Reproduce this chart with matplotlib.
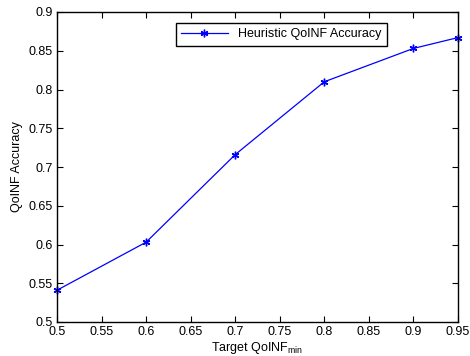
import matplotlib
matplotlib.use("Agg")
import matplotlib.pyplot as plt

target_qoinf = [0.5, 0.6, 0.7, 0.8, 0.9, 0.95]
accuracy = [0.541, 0.603, 0.716, 0.810, 0.853, 0.867]
x_ticks = [0.5, 0.55, 0.6, 0.65, 0.7, 0.75, 0.8, 0.85, 0.9, 0.95]
y_ticks = [0.5, 0.55, 0.6, 0.65, 0.7, 0.75, 0.8, 0.85, 0.9]

plt.rcParams['font.family'] = ['Liberation Sans', 'DejaVu Sans']
plt.rcParams['font.size'] = 9

fig = plt.figure(figsize=(4.7, 3.56), dpi=100)
ax = fig.add_axes([57 / 470, 1 - 322 / 356, 401 / 470, 310 / 356])

# MATLAB-style asterisk marker
ax.plot(target_qoinf, accuracy, color='#0000ff', marker=(6, 2, 0), markersize=5.5,
        markeredgewidth=1.0, linewidth=0.9, label='Heuristic QoINF Accuracy',
        clip_on=False)

ax.set_xlim(0.5, 0.95)
ax.set_ylim(0.5, 0.9)
ax.set_xticks(x_ticks)
ax.set_yticks(y_ticks)
ax.set_xticklabels([f"{v:g}" for v in x_ticks])
ax.set_yticklabels([f"{v:g}" for v in y_ticks])
ax.tick_params(direction='in', top=True, right=True, length=4.5, width=0.8, pad=3)
for s in ax.spines.values():
    s.set_linewidth(1.0)

ax.set_xlabel(r'Target QoINF$_{\mathregular{min}}$', labelpad=1)
ax.set_ylabel('QoINF Accuracy', labelpad=4)

leg = ax.legend(loc='upper left', bbox_to_anchor=(0.296, 0.965), fancybox=False,
                edgecolor='black', framealpha=1, borderpad=0.45, handlelength=3.7,
                handletextpad=0.8, borderaxespad=0)
leg.get_frame().set_linewidth(1.0)

fig.savefig('out.png', dpi=100)
